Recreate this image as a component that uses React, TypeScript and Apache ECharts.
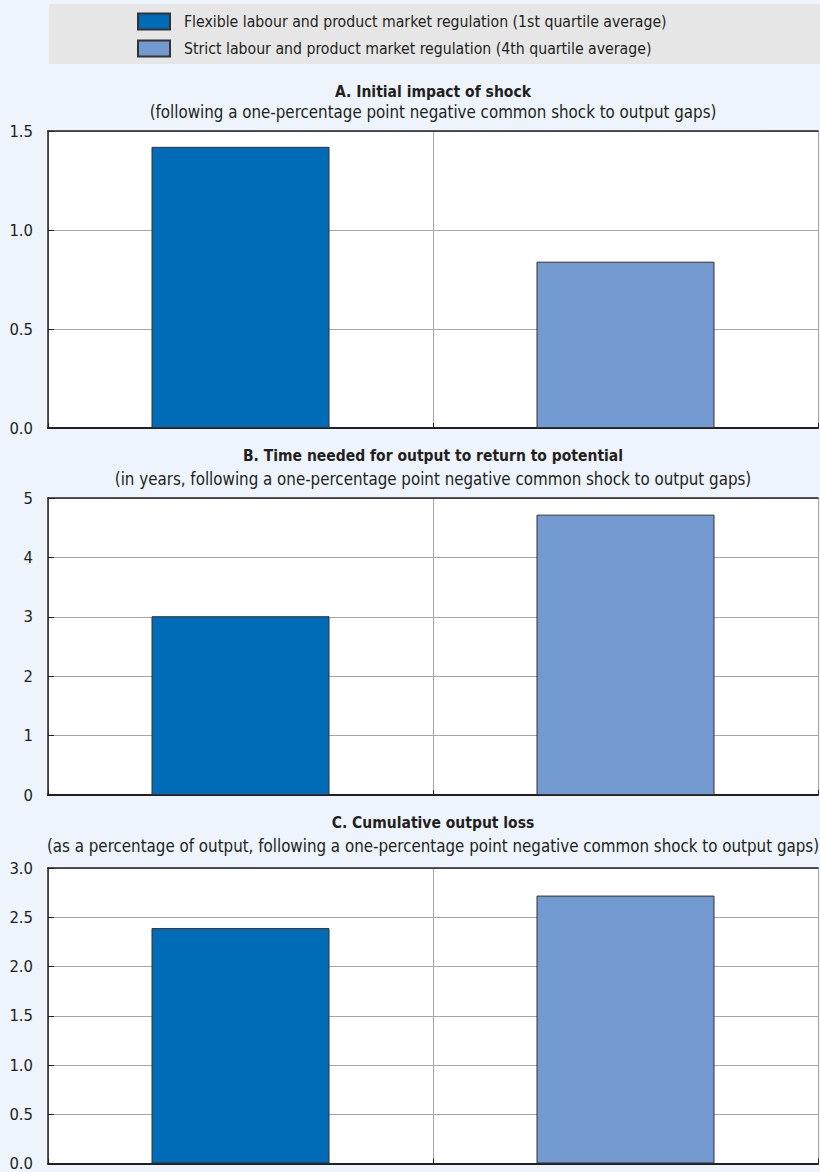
import React, { useEffect, useRef } from "react";
import * as echarts from "echarts";

const categories = ["Flexible", "Strict"];
const seriesNames = [
  "Flexible labour and product market regulation (1st quartile average)",
  "Strict labour and product market regulation (4th quartile average)",
];
const panelTitles = [
  "A. Initial impact of shock",
  "B. Time needed for output to return to potential",
  "C. Cumulative output loss",
];
const panelSubtitles = [
  "(following a one-percentage point negative common shock to output gaps)",
  "(in years, following a one-percentage point negative common shock to output gaps)",
  "(as a percentage of output, following a one-percentage point negative common shock to output gaps)",
];
const initialImpact = [1.42, 0.84];
const timeToPotential = [3.01, 4.72];
const cumulativeLoss = [2.39, 2.72];
const panelValues = [initialImpact, timeToPotential, cumulativeLoss];
const yMax = [1.5, 5, 3];
const yInterval = [0.5, 1, 0.5];
const yDecimals = [1, 0, 1];

const FONT = '"Liberation Sans Narrow", "DejaVu Sans Condensed", "Roboto Condensed", "Arial Narrow", sans-serif';
const COLORS = ["#006BB6", "#739AD0"];
const BG = "#EDF4FC";

export default function App() {
  const ref = useRef<HTMLDivElement>(null);
  useEffect(() => {
    if (!ref.current) return;
    const chart = echarts.init(ref.current, undefined, { renderer: "svg" });
    const gridTops = [131, 498, 868];
    const gridHeights = [297, 297, 298];
    const titleY = [92, 456, 823];
    const subY = [112, 479, 846];

    const grids = gridTops.map((t, i) => ({
      left: 48,
      right: 2,
      top: t,
      height: gridHeights[i],
      backgroundColor: "#fff",
      show: true,
      borderWidth: 0,
    }));

    const xAxes: any[] = [];
    const yAxes: any[] = [];
    const series: any[] = [];
    gridTops.forEach((_, i) => {
      xAxes.push({
        type: "category",
        gridIndex: i,
        data: categories,
        position: "bottom",
        axisLabel: { show: false },
        axisLine: { show: true, onZero: false, lineStyle: { color: "#231f20", width: 2 } },
        axisTick: { show: true, inside: true, length: 5, lineStyle: { color: "#231f20" } },
        splitLine: { show: true, lineStyle: { color: "#a6a6a6", width: 1 } },
      });
      xAxes.push({
        type: "category",
        gridIndex: i,
        data: categories,
        position: "top",
        axisLabel: { show: false },
        axisLine: { show: true, onZero: false, lineStyle: { color: "#231f20", width: 1.5 } },
        axisTick: { show: false },
        splitLine: { show: false },
      });
      yAxes.push({
        type: "value",
        gridIndex: i,
        min: 0,
        max: yMax[i],
        interval: yInterval[i],
        axisLine: { show: true, lineStyle: { color: "#231f20", width: 1.5 } },
        axisTick: { show: true, inside: true, length: 6, lineStyle: { color: "#231f20" } },
        axisLabel: {
          color: "#231f20",
          fontFamily: FONT,
          fontSize: 16.5,
          margin: 15,
          formatter: (v: number) => v.toFixed(yDecimals[i]),
        },
        splitLine: { show: true, lineStyle: { color: "#a6a6a6", width: 1 } },
      });
      const vals = panelValues[i];
      [0, 1].forEach((s) => {
        series.push({
          type: "bar",
          name: seriesNames[s],
          xAxisIndex: i * 2,
          yAxisIndex: i,
          stack: "p" + i,
          barWidth: 178,
          data: categories.map((_, c) => (c === s ? vals[c] : null)),
          itemStyle: { color: COLORS[s], borderColor: "#333333", borderWidth: 1 },
        });
      });
    });

    const graphics: any[] = [
      {
        type: "rect",
        shape: { x: 49, y: 4, width: 771, height: 60 },
        style: { fill: "#E6E6E6" },
        z: -1,
      },
    ];
    panelTitles.forEach((t, i) => {
      graphics.push({
        type: "text",
        x: 433,
        y: titleY[i],
        style: {
          text: t,
          fontFamily: FONT,
          fontSize: 15.5,
          fontWeight: "bold",
          fill: "#231f20",
          textAlign: "center",
          textVerticalAlign: "middle",
        },
      });
      graphics.push({
        type: "text",
        x: 433,
        y: subY[i],
        style: {
          text: panelSubtitles[i],
          fontFamily: FONT,
          fontSize: 16.8,
          fill: "#231f20",
          textAlign: "center",
          textVerticalAlign: "middle",
        },
      });
    });

    chart.setOption({
      animation: false,
      backgroundColor: BG,
      grid: grids,
      xAxis: xAxes,
      yAxis: yAxes,
      series,
      graphic: graphics,
      legend: {
        data: seriesNames,
        orient: "vertical",
        left: 137,
        top: 12.5,
        padding: 0,
        itemWidth: 32,
        itemHeight: 16,
        itemGap: 9,
        icon: "rect",
        textStyle: { fontFamily: FONT, fontSize: 15.7, color: "#231f20", padding: [0, 0, 0, 9] },
        selectedMode: false,
      },
    });
    return () => chart.dispose();
  }, []);
  return (
    <div
      ref={ref}
      style={{ position: "absolute", left: 0, top: 0, width: 820, height: 1172 }}
    />
  );
}
